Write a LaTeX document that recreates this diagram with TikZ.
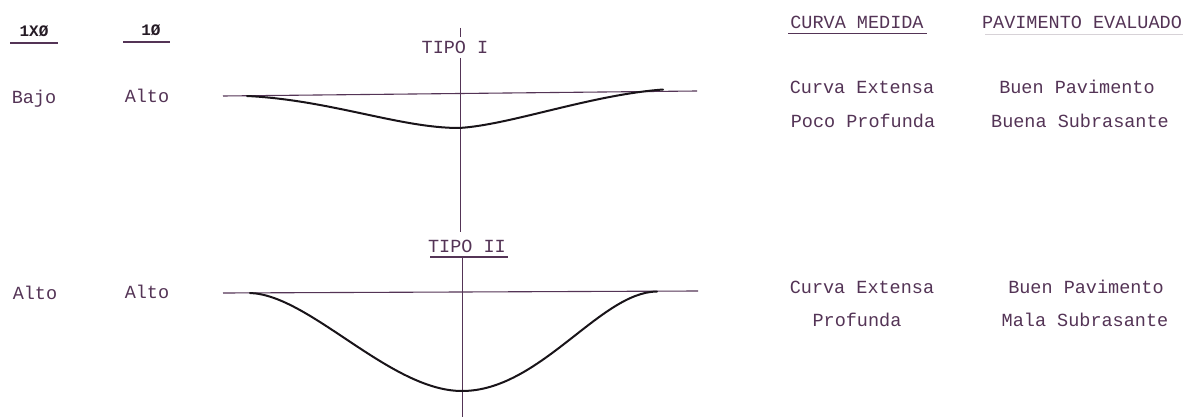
\documentclass[tikz,border=0pt]{standalone}
\usepackage{fontspec}
\setmonofont{Liberation Mono}
\definecolor{ink}{RGB}{84,52,86}
\definecolor{curveink}{RGB}{25,20,25}
\definecolor{faint}{RGB}{215,210,215}
\tikzset{
  lbl/.style={anchor=base, inner sep=0pt, text=ink, font=\ttfamily\fontsize{18.5}{18.5}\selectfont},
  hdr/.style={lbl, text=curveink!80!ink, font=\ttfamily\bfseries\fontsize{16}{16}\selectfont},
  ref/.style={draw=ink, line width=1.1pt},
  basin/.style={draw=curveink, line width=2pt, line cap=round, line join=round},
  uline/.style={draw=ink, line width=1.6pt},
}
\begin{document}
\begin{tikzpicture}[x=1pt,y=-1pt]
\useasboundingbox (0,0) rectangle (1195,417);
\fill[white] (0,0) rectangle (1195,417);

% left headers
\node[hdr] (h1) at (34,37) {1XØ};
\node[hdr] (h2) at (151,36) {1Ø};
\coordinate (u1a) at (10,43); \coordinate (u1b) at (58,43);
\coordinate (u2a) at (123,42); \coordinate (u2b) at (170,42);
\draw[uline] (u1a) -- (u1b);
\draw[uline] (u2a) -- (u2b);

\node[lbl] (b1) at (34,104) {Bajo};
\node[lbl] (a1) at (147,103) {Alto};
\node[lbl] (a2) at (35,299) {Alto};
\node[lbl] (a3) at (147,298) {Alto};

% TIPO I
\node[lbl] (t1) at (455,54) {TIPO I};
\coordinate (ax1t) at (460,28); \coordinate (ax1u) at (460,37);
\coordinate (ax1a) at (460,58); \coordinate (ax1b) at (460,232);
\draw[ref, line width=0.9pt] (ax1t) -- (ax1u);
\draw[ref, line width=0.9pt] (ax1a) -- (ax1b);
\coordinate (h1a) at (223,96); \coordinate (h1b) at (697,91);
\draw[ref] (h1a) -- (h1b);
\coordinate (k1l) at (247,96); \coordinate (k1m) at (459,128); \coordinate (k1r) at (663,89.5);
\draw[basin] (k1l) .. controls (330,100) and (400,128) .. (k1m)
                   .. controls (510,125) and (590,95) .. (k1r);

% TIPO II
\node[lbl] (t2) at (467,252) {TIPO II};
\coordinate (u3a) at (430,257); \coordinate (u3b) at (508,257);
\draw[uline] (u3a) -- (u3b);
\coordinate (ax2a) at (462,258); \coordinate (ax2b) at (462,417);
\draw[ref, line width=0.9pt] (ax2a) -- (ax2b);
\coordinate (h2a) at (223,293); \coordinate (h2b) at (698,291);
\draw[ref] (h2a) -- (h2b);
\coordinate (k2l) at (250,293); \coordinate (k2m) at (462,391); \coordinate (k2r) at (657,291.5);
\draw[basin] (k2l) .. controls (310,295) and (390,391) .. (k2m)
                   .. controls (540,391) and (600,292) .. (k2r);

% right headers
\node[lbl] (cm) at (857,29) {CURVA MEDIDA};
\coordinate (u4a) at (788,34); \coordinate (u4b) at (927,34);
\draw[draw=ink, line width=1pt] (u4a) -- (u4b);
\node[lbl] (pe) at (1082,29) {PAVIMENTO EVALUADO};
\coordinate (u5a) at (985,34); \coordinate (u5b) at (1183,34);
\draw[draw=faint, line width=0.8pt] (u5a) -- (u5b);

\node[lbl] (c1) at (862,94) {Curva Extensa};
\node[lbl] (c2) at (863,128) {Poco Profunda};
\node[lbl] (p1) at (1077,94) {Buen Pavimento};
\node[lbl] (p2) at (1080,128) {Buena Subrasante};

\node[lbl] (c3) at (862,293) {Curva Extensa};
\node[lbl] (c4) at (857,326) {Profunda};
\node[lbl] (p3) at (1086,293) {Buen  Pavimento};
\node[lbl] (p4) at (1085,326) {Mala Subrasante};
\end{tikzpicture}
\end{document}
